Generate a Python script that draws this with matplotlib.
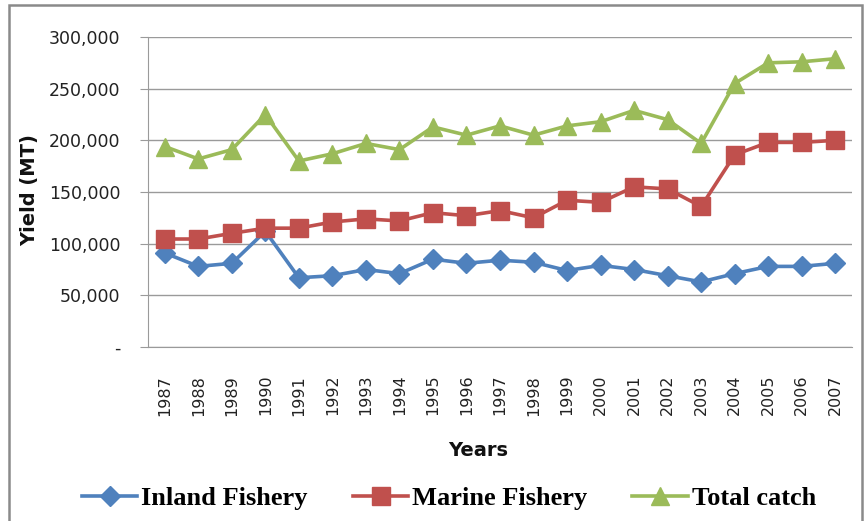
import matplotlib
matplotlib.use("Agg")
import matplotlib.pyplot as plt
from matplotlib.patches import Rectangle
from matplotlib.ticker import FuncFormatter

# Data
years = [str(y) for y in range(1987, 2008)]
inland = [91000, 78000, 81000, 112000, 67000, 69000, 75000, 71000, 85000, 81000, 84000,
          82000, 74000, 79000, 75000, 69000, 63000, 71000, 78000, 78000, 81000]
marine = [104500, 104500, 110000, 115000, 115000, 121000, 124000, 122000, 130000, 127000, 132000,
          125000, 142000, 140000, 155000, 153000, 136000, 186000, 198000, 198000, 200000]
total = [194000, 182000, 191000, 225000, 180000, 187000, 197000, 191000, 213000, 205000, 214000,
         205000, 214000, 218000, 229000, 220000, 197000, 255000, 275000, 276000, 279000]

blue = "#4F81BD"
red = "#C0504D"
green = "#9BBB59"
grid_c = "#9a9a9a"

W, H = 867, 521
fig = plt.figure(figsize=(W / 100, H / 100), dpi=100)
ax = fig.add_axes([148 / W, 1 - 347 / H, (852 - 148) / W, (347 - 37) / H])

x = range(len(years))
ax.plot(x, inland, color=blue, lw=2.6, marker="D", ms=10, label="Inland Fishery", zorder=3)
ax.plot(x, marine, color=red, lw=2.6, marker="s", ms=13, label="Marine Fishery", zorder=4)
ax.plot(x, total, color=green, lw=2.6, marker="^", ms=13, label="Total catch", zorder=3)

ax.set_xlim(-0.5, len(years) - 0.5)
ax.set_ylim(0, 300000)
ax.set_yticks(range(0, 300001, 50000))
ax.yaxis.set_major_formatter(FuncFormatter(lambda v, p: "-" if v == 0 else f"{int(v):,}"))
ax.set_xticks(list(x))
ax.set_xticklabels(years, rotation=90, fontsize=11.5, color="#222222")
ax.tick_params(axis="y", labelsize=12.5, labelcolor="#222222", length=6, color=grid_c, pad=14)
ax.tick_params(axis="x", length=0, pad=20)

ax.grid(axis="y", color=grid_c, lw=1)
ax.set_axisbelow(True)
for s in ["top", "right"]:
    ax.spines[s].set_visible(False)
ax.spines["left"].set_color(grid_c)
ax.spines["bottom"].set_color(grid_c)

fig.text(30 / W, 1 - 190 / H, "Yield (MT)", rotation=90, ha="center", va="center",
         fontsize=14, fontweight="bold", color="#111111")
fig.text(478 / W, 1 - 450 / H, "Years", ha="center", va="center",
         fontsize=14, fontweight="bold", color="#111111")

fig.legend(loc="center", bbox_to_anchor=(449 / W, 1 - 498 / H), ncol=3, frameon=False,
           prop={"family": "Liberation Serif", "weight": "bold", "size": 19},
           handlelength=2.1, handletextpad=0.15, columnspacing=1.7)

fig.add_artist(Rectangle((9 / W, -0.02), (862 - 9) / W, 1.02 - 5 / H,
                         transform=fig.transFigure, fill=False, ec="#8a8a8a", lw=1.8))

fig.savefig("out.png", dpi=100)
